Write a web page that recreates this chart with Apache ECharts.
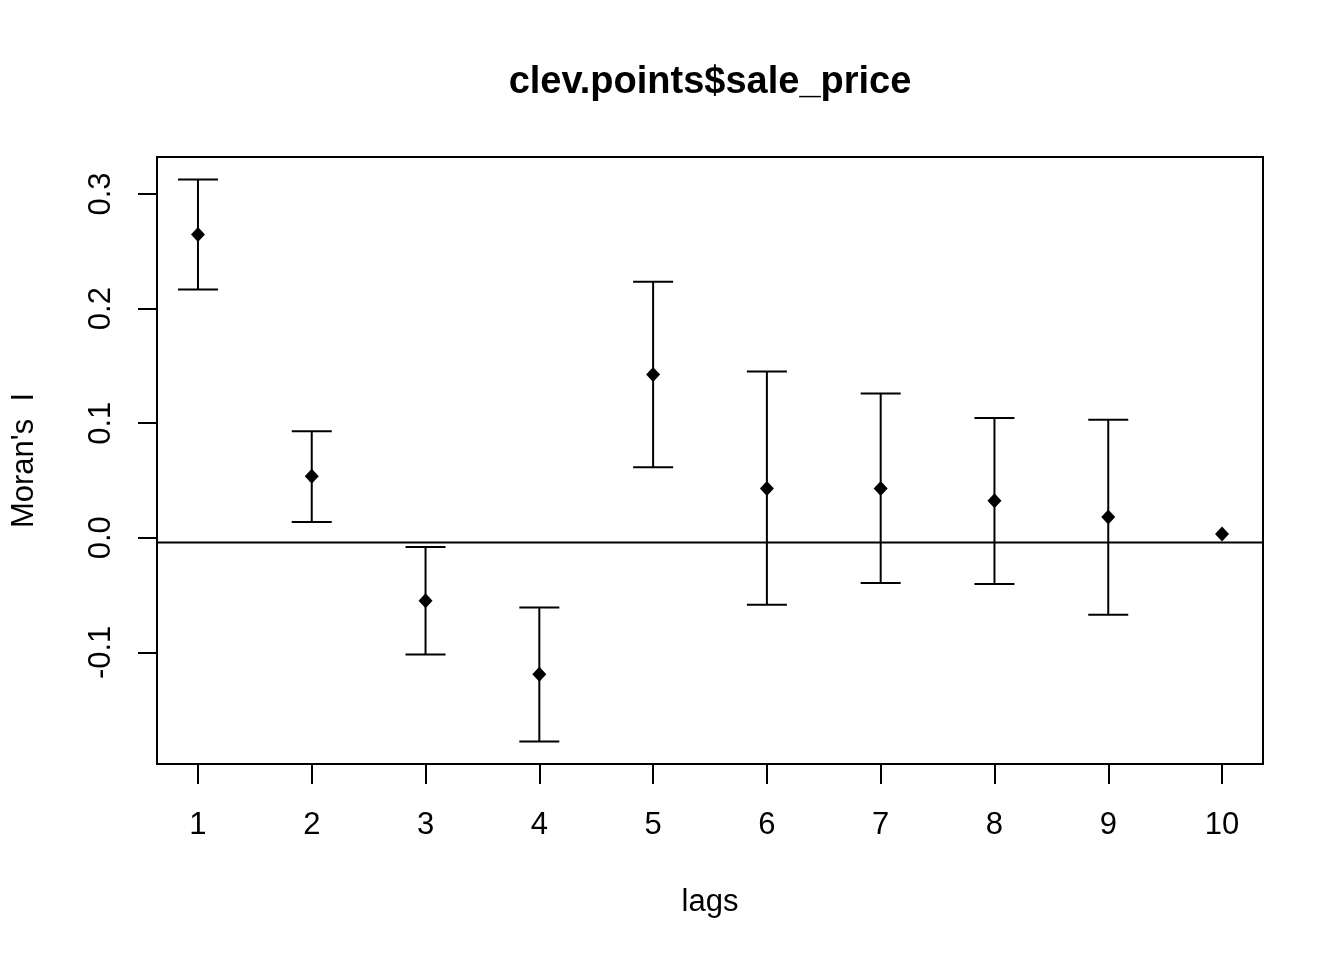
<!DOCTYPE html>
<html>
<head>
<meta charset="utf-8">
<script src="https://cdn.jsdelivr.net/npm/echarts@6/dist/echarts.min.js"></script>
<style>
html,body{margin:0;padding:0;background:#ffffff;}
#chart{width:1344px;height:960px;}
</style>
</head>
<body>
<div id="chart"></div>
<script>
// ---- data ----
const lags = [1, 2, 3, 4, 5, 6, 7, 8, 9, 10];
const moransI = [0.2647, 0.0536, -0.0549, -0.1190, 0.1424, 0.0431, 0.0431, 0.0324, 0.0182, 0.0033];
const upperCI = [0.3127, 0.0929, -0.0080, -0.0608, 0.2234, 0.1451, 0.1259, 0.1046, 0.1031, null];
const lowerCI = [0.2167, 0.0138, -0.1018, -0.1778, 0.0615, -0.0584, -0.0395, -0.0403, -0.0672, null];
const expectedI = -0.0040;
const xTickValues = [1, 2, 3, 4, 5, 6, 7, 8, 9, 10];
const yTickValues = [-0.1, 0.0, 0.1, 0.2, 0.3];
const xRange = [0.64, 10.36];
const yRange = [-0.1974, 0.3323];
const titleText = 'clev.points$sale_price';
const xName = 'lags';
const yName = "Moran's  I";

// ---- build series data ----
const pointData = lags.map((l, i) => [l, moransI[i]]);
const barData = lags
  .map((l, i) => [l, lowerCI[i], upperCI[i]])
  .filter(d => d[1] !== null && d[2] !== null);
const refLineData = [[xRange[0], expectedI], [xRange[1], expectedI]];

const FONT = '"Liberation Sans", Arial, Helvetica, sans-serif';
const chart = echarts.init(document.getElementById('chart'), null, {renderer: 'canvas'});

const option = {
  backgroundColor: '#ffffff',
  animation: false,
  title: {
    text: titleText,
    left: 710,
    top: 64,
    textAlign: 'center',
    padding: 0,
    textStyle: {fontFamily: FONT, fontWeight: 'bold', fontSize: 38, color: '#000'}
  },
  grid: {
    left: 157, right: 81, top: 157, bottom: 196,
    show: true, borderColor: '#000', borderWidth: 2, backgroundColor: 'transparent'
  },
  xAxis: {
    type: 'value',
    min: xRange[0], max: xRange[1],
    position: 'bottom',
    name: xName,
    nameLocation: 'middle',
    nameGap: 123,
    nameTextStyle: {fontFamily: FONT, fontSize: 31, color: '#000'},
    axisLine: {show: false, onZero: false},
    splitLine: {show: false},
    axisTick: {show: true, inside: false, length: 20, customValues: xTickValues,
      lineStyle: {color: '#000', width: 2}},
    axisLabel: {show: true, margin: 46, customValues: xTickValues,
      fontFamily: FONT, fontSize: 31, color: '#000',
      formatter: v => String(v)}
  },
  yAxis: {
    type: 'value',
    min: yRange[0], max: yRange[1],
    position: 'left',
    name: yName,
    nameLocation: 'middle',
    nameGap: 117,
    nameTextStyle: {fontFamily: FONT, fontSize: 31, color: '#000'},
    axisLine: {show: false, onZero: false},
    splitLine: {show: false},
    axisTick: {show: true, inside: false, length: 19, customValues: yTickValues,
      lineStyle: {color: '#000', width: 2}},
    axisLabel: {show: true, margin: 40, rotate: 90, customValues: yTickValues,
      fontFamily: FONT, fontSize: 31, color: '#000',
      formatter: v => v.toFixed(1)}
  },
  series: [
    {
      type: 'line',
      name: 'expected',
      silent: true,
      data: refLineData,
      showSymbol: false,
      symbol: 'none',
      lineStyle: {color: '#000', width: 2, type: 'solid', opacity: 1},
      z: 1
    },
    {
      type: 'custom',
      name: 'ci',
      silent: true,
      data: barData,
      encode: {x: 0, y: [1, 2]},
      renderItem: function (params, api) {
        const x = api.value(0);
        const lo = api.coord([x, api.value(1)]);
        const hi = api.coord([x, api.value(2)]);
        const hw = 20;
        const style = {stroke: '#000', lineWidth: 2};
        return {
          type: 'group',
          children: [
            {type: 'line', shape: {x1: lo[0], y1: lo[1], x2: hi[0], y2: hi[1]}, style: style},
            {type: 'line', shape: {x1: lo[0] - hw, y1: lo[1], x2: lo[0] + hw, y2: lo[1]}, style: style},
            {type: 'line', shape: {x1: hi[0] - hw, y1: hi[1], x2: hi[0] + hw, y2: hi[1]}, style: style}
          ]
        };
      },
      z: 2
    },
    {
      type: 'scatter',
      name: 'I',
      silent: true,
      data: pointData,
      symbol: 'diamond',
      symbolSize: [14, 15],
      itemStyle: {color: '#000', opacity: 1},
      z: 3
    }
  ]
};
chart.setOption(option);
</script>
</body>
</html>
